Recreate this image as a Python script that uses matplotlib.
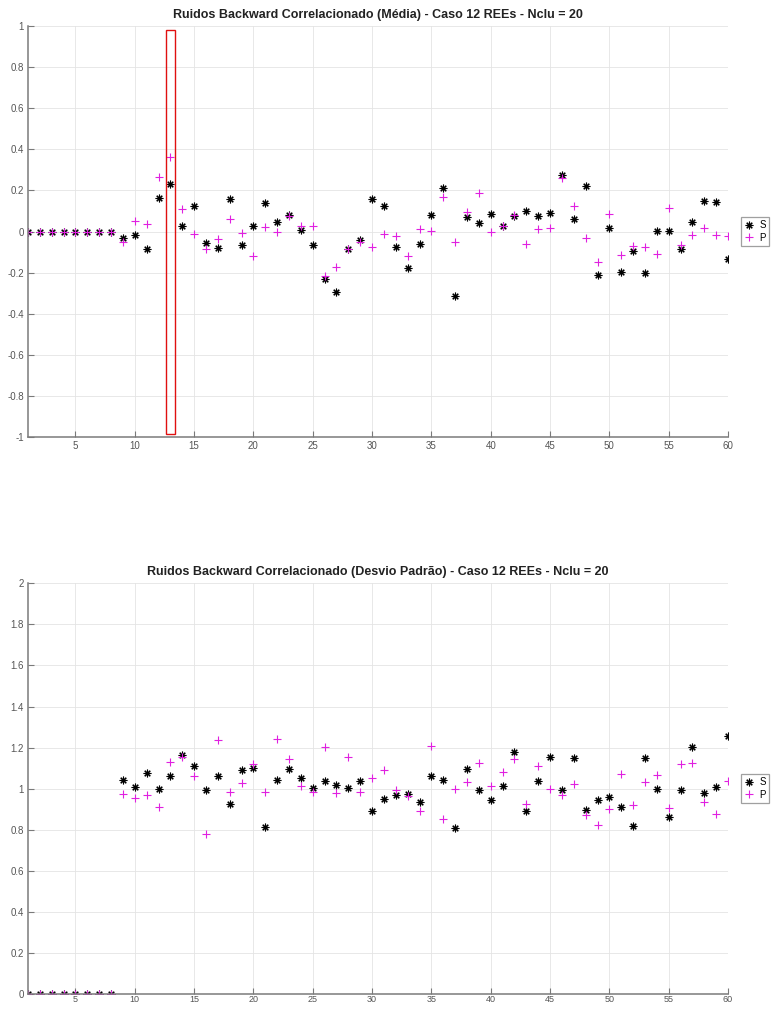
import numpy as np
import matplotlib.pyplot as plt
from matplotlib.patches import Rectangle
from matplotlib.ticker import FuncFormatter

plt.rcParams['font.family'] = ['Liberation Sans', 'DejaVu Sans']

amostras = np.arange(1, 61)

# media - serie preta (*) e magenta (+)
media_s = [0, 0, 0, 0, 0, 0, 0, 0,
           -0.031, -0.019, -0.083, 0.165, 0.233, 0.026, 0.123, -0.055, -0.081, 0.159, -0.063, 0.026,
           0.141, 0.047, 0.079, 0.008, -0.065, -0.233, -0.295, -0.083, -0.039, 0.159,
           0.123, -0.073, -0.176, -0.060, 0.082, 0.210, -0.316, 0.071, 0.042, 0.087,
           0.027, 0.078, 0.102, 0.076, 0.092, 0.277, 0.060, 0.220, -0.212, 0.015,
           -0.199, -0.097, -0.201, 0.005, 0.002, -0.086, 0.049, 0.147, 0.144, -0.134]
media_p = [0, 0, 0, 0, 0, 0, 0, 0,
           -0.050, 0.053, 0.039, 0.265, 0.361, 0.110, -0.010, -0.084, -0.036, 0.063, -0.006, -0.120,
           0.021, -0.002, 0.074, 0.026, 0.029, -0.217, -0.173, -0.083, -0.052, -0.073,
           -0.010, -0.021, -0.121, 0.011, 0.002, 0.170, -0.050, 0.097, 0.188, 0.000,
           0.027, 0.081, -0.060, 0.011, 0.018, 0.259, 0.125, -0.032, -0.150, 0.084,
           -0.115, -0.071, -0.073, -0.108, 0.115, -0.066, -0.018, 0.016, -0.016, -0.021]

# desvio padrao
desvio_s = [0, 0, 0, 0, 0, 0, 0, 0,
            1.042, 1.010, 1.075, 1.000, 1.063, 1.166, 1.108, 0.994, 1.061, 0.924, 1.092, 1.101,
            0.811, 1.043, 1.098, 1.050, 1.003, 1.035, 1.019, 1.002, 1.037, 0.891,
            0.950, 0.971, 0.976, 0.937, 1.063, 1.043, 0.807, 1.098, 0.995, 0.945,
            1.014, 1.177, 0.892, 1.035, 1.156, 0.995, 1.148, 0.897, 0.944, 0.960,
            0.912, 0.820, 1.148, 1.000, 0.864, 0.995, 1.201, 0.981, 1.010, 1.254]
desvio_p = [0, 0, 0, 0, 0, 0, 0, 0,
            0.974, 0.955, 0.970, 0.912, 1.129, 1.153, 1.061, 0.778, 1.235, 0.982, 1.026, 1.120,
            0.986, 1.244, 1.145, 1.011, 0.986, 1.202, 0.977, 1.154, 0.984, 1.052,
            1.093, 0.995, 0.966, 0.889, 1.206, 0.852, 0.998, 1.034, 1.127, 1.014,
            1.082, 1.143, 0.925, 1.112, 0.998, 0.970, 1.021, 0.871, 0.823, 0.900,
            1.072, 0.921, 1.034, 1.064, 0.904, 1.122, 1.125, 0.934, 0.876, 1.037]

# so a primeira letra das legendas aparece na imagem original (cortada na borda)
rotulos = ['S', 'P']
titulos = ['Ruidos Backward Correlacionado (Média) - Caso 12 REEs - Nclu = 20',
           'Ruidos Backward Correlacionado (Desvio Padrão) - Caso 12 REEs - Nclu = 20']
destaque = 13  # amostra marcada em vermelho no grafico da media

fig = plt.figure(figsize=(7.71, 10.09), dpi=100)
ax1 = fig.add_axes([0.0363, 0.567, 0.908, 0.407])
ax2 = fig.add_axes([0.0363, 0.0149, 0.908, 0.407])

asterisco = (8, 2, 0)
fmt = FuncFormatter(lambda v, p: '%g' % (round(v, 2) + 0.0))

def desenha(ax, s, p, titulo, ylim, yticks):
    ax.plot(amostras, s, linestyle='none', marker=asterisco, color='k',
            markersize=5.5, markeredgewidth=0.8, label=rotulos[0])
    ax.plot(amostras, p, linestyle='none', marker='+', color='#e020e0',
            markersize=6, markeredgewidth=0.8, label=rotulos[1])
    ax.set_xlim(1, 60)
    ax.set_ylim(*ylim)
    ax.set_xticks(np.arange(5, 61, 5))
    ax.set_yticks(yticks)
    ax.yaxis.set_major_formatter(fmt)
    ax.grid(True, color='#e4e4e4', linewidth=0.6)
    ax.set_axisbelow(True)
    for lado in ['top', 'right']:
        ax.spines[lado].set_visible(False)
    for lado in ['left', 'bottom']:
        ax.spines[lado].set_color('#7a7a7a')
        ax.spines[lado].set_linewidth(1.1)
    ax.tick_params(direction='in', length=4.5, width=0.8, color='#7a7a7a',
                   labelsize=7, labelcolor='#555555', pad=3)
    ax.set_title(titulo, fontsize=9, fontweight='bold', color='#222222', pad=6)
    leg = ax.legend(loc='center left', bbox_to_anchor=(1.0186, 0.5), fontsize=7,
                    frameon=True, fancybox=False, edgecolor='#888888',
                    handlelength=1.0, handletextpad=0.5, borderpad=0.35,
                    labelspacing=0.25, borderaxespad=0)
    leg.get_frame().set_linewidth(0.9)

desenha(ax1, media_s, media_p, titulos[0], (-1, 1), np.arange(-1, 1.01, 0.2))
desenha(ax2, desvio_s, desvio_p, titulos[1], (0, 2), np.arange(0, 2.01, 0.2))
# no grafico de baixo os numeros do eixo x ficam colados na borda da figura
ax2.tick_params(axis='x', pad=1, labelsize=6.5)

ax1.add_patch(Rectangle((destaque - 0.36, -0.985), 0.72, 1.965, fill=False,
                        edgecolor='#e01010', linewidth=1.0, zorder=5))

fig.savefig('out.png', dpi=100)
